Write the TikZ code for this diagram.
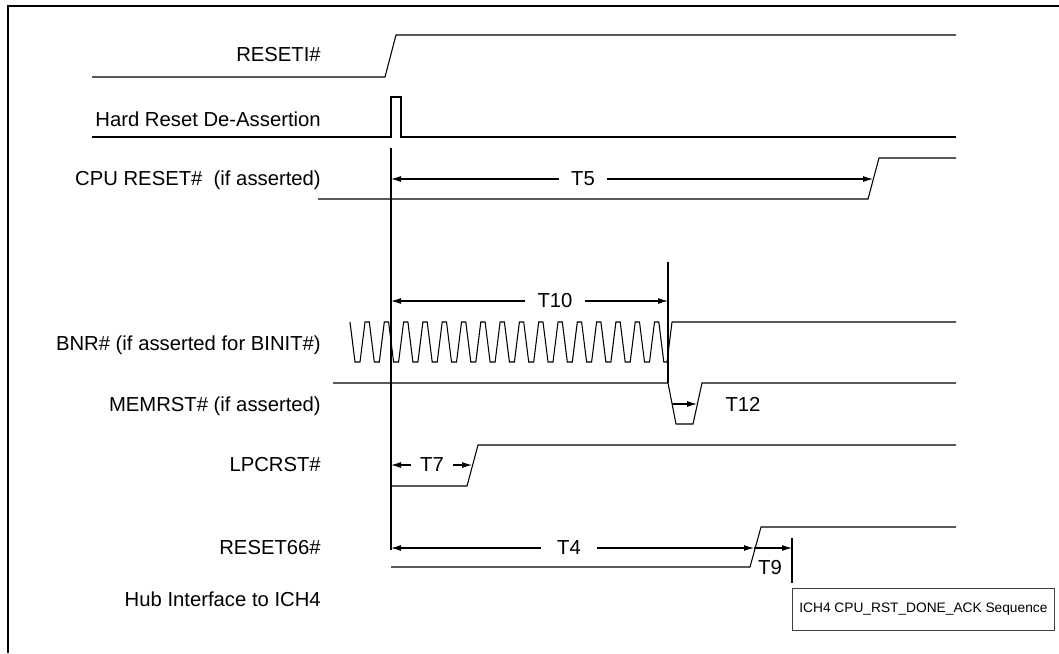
\documentclass[tikz,border=0pt]{standalone}
\usepackage{fontspec}
\setmainfont{Liberation Sans}
\usetikzlibrary{arrows.meta,positioning,calc}

\begin{document}
\begin{tikzpicture}[x=0.75pt,y=-0.75pt,>={Latex[length=7.5pt,width=4.5pt]},
    sig/.style={line width=0.8pt},
    lbl/.style={anchor=east,inner sep=0pt,font=\fontsize{15.2}{18}\selectfont},
    tname/.style={inner xsep=9pt,inner ysep=0pt,font=\fontsize{15.2}{18}\selectfont},
    dim/.style={->,line width=0.8pt}]
  \useasboundingbox (0,0) rectangle (1059,653);
  \draw[line width=1.6pt] (8,653) -- (8,6) -- (1059,6);

  % signal names
  \node[lbl] (resi)  at (321,55)  {RESETI\#};
  \node[lbl] (hard)  at (321,119) {Hard Reset De-Assertion};
  \node[lbl] (cpu)   at (321,180) {CPU RESET\#\ \ (if asserted)};
  \node[lbl] (bnr)   at (321,345) {BNR\# (if asserted for BINIT\#)};
  \node[lbl] (mem)   at (321,406) {MEMRST\# (if asserted)};
  \node[lbl] (lpc)   at (321,465) {LPCRST\#};
  \node[lbl] (r66)   at (321,548) {RESET66\#};
  \node[lbl] (hub)   at (321,599) {Hub Interface to ICH4};

  % waveforms
  \draw[sig] (92,77) -- (385,77) -- (396,35) -- (956,35);
  \draw[sig] (92,137) -- (391,137) -- (391,97) -- (401,97) -- (401,137) -- (956,137);
  \draw[sig] (318,199) -- (868,199) -- (879,158) -- (956,158);
  \draw[sig] (350,322) \foreach \k in {0,...,15}{ -- ++(5,40) -- ++(5,0) -- ++(5,-40) -- ++(4.3,0)}
    -- ++(5,40) -- (667,362) -- (672,322) -- (956,322);
  \draw[sig] (333,383) -- (668,383) -- (676,424) -- (693,424) -- (702,383) -- (956,383);
  \draw[sig] (391,486) -- (467,486) -- (478,445) -- (956,445);
  \draw[sig] (391,567) -- (750,567) -- (761,527) -- (956,527);

  % edges the timings refer to
  \coordinate (ref) at (391,148);
  \coordinate (cpuup) at (873,179);
  \coordinate (bnrup) at (668,262);
  \coordinate (memdn) at (672,404);
  \coordinate (memup) at (697,404);
  \coordinate (lpcup) at (472,465);
  \coordinate (r66up) at (754,548);
  \coordinate (ackst) at (792,538);
  \draw[sig] (ref) -- (391,550);
  \draw[sig] (bnrup) -- (668,383);
  \draw[sig] (ackst) -- (792,583);

  % timings
  \node[tname] (t5)  at (583,179) {T5};
  \node[tname] (t10) at (555,301) {T10};
  \node[tname] (t12) at (743,404) {T12};
  \node[tname,inner xsep=7pt] (t7) at (432,465) {T7};
  \node[tname,inner xsep=12pt] (t4) at (569,548) {T4};
  \node[tname] (t9)  at (770,568) {T9};
  \draw[dim] (t5) -- (ref |- t5);
  \draw[dim] (t5) -- (cpuup);
  \draw[dim] (t10) -- (ref |- t10);
  \draw[dim] (t10) -- (bnrup |- t10);
  \draw[dim] (memdn) -- (memup);
  \draw[dim] (t7) -- (ref |- t7);
  \draw[dim] (t7) -- (lpcup);
  \draw[dim] (t4) -- (ref |- t4);
  \draw[dim] (t4) -- (r66up);
  \draw[dim] (r66up) -- (ackst |- r66up);

  \node[draw=black!75,line width=0.6pt,anchor=north west,minimum width=196.5pt,minimum height=31.5pt,
    inner sep=0pt,font=\fontsize{10.3}{12}\selectfont] (seq) at (792,588) {ICH4 CPU\_RST\_DONE\_ACK Sequence};
\end{tikzpicture}
\end{document}
